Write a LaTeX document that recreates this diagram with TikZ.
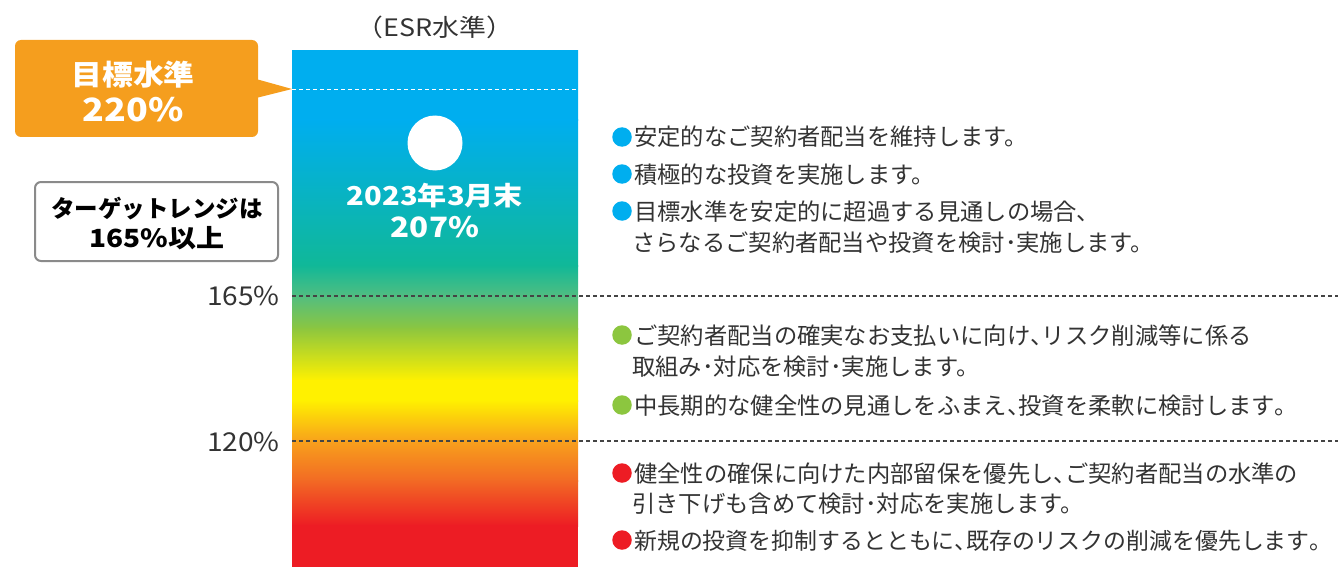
\documentclass[tikz,border=0pt]{standalone}
\usepackage{fontspec}
\setmainfont{Noto Sans CJK JP}
\newfontfamily\wideA{Noto Sans CJK JP}[FakeStretch=1.12]
\newfontfamily\wideB{Noto Sans CJK JP}[FakeStretch=1.08]
\newcommand\hcomma{\makebox[0.5em][l]{、}}
\newcommand\hstop{\makebox[0.5em][l]{。}}
\definecolor{cBlue}{HTML}{00AEEF}
\definecolor{cTeal}{HTML}{10B898}
\definecolor{cGreenA}{HTML}{52BE80}
\definecolor{cGreen}{HTML}{8CC63F}
\definecolor{cYellow}{HTML}{FFF100}
\definecolor{cOrangeA}{HTML}{F8A01C}
\definecolor{cOrangeB}{HTML}{F26A24}
\definecolor{cRed}{HTML}{ED1C24}
\definecolor{cCallout}{HTML}{F59E1E}
\definecolor{cText}{HTML}{333333}
\definecolor{cDash}{HTML}{444444}
\definecolor{cBox}{HTML}{8A8A8A}
\tikzset{
  body/.style={anchor=base west, inner sep=0pt, text=cText, font=\fontsize{23.3}{23.3}\selectfont},
  bul/.style={circle, inner sep=0pt, minimum size=19.5pt},
  level/.style={anchor=base east, inner sep=0pt, text=cText, font=\wideB\fontsize{26}{26}\selectfont},
  wbig/.style={anchor=base, inner sep=0pt, text=white},
  darkdash/.style={cDash, line width=1.1pt, dash pattern=on 4pt off 3pt},
}
\begin{document}
\begin{tikzpicture}[x=1pt,y=-1pt]
\useasboundingbox (0,0) rectangle (1338,567);
% gradient bar
\shade[top color=cBlue, bottom color=cBlue] (292,51) rectangle (578,121);
\shade[top color=cBlue, bottom color=cTeal] (292,120) rectangle (578,266);
\shade[top color=cTeal, bottom color=cGreenA] (292,265) rectangle (578,297);
\shade[top color=cGreenA, bottom color=cGreen] (292,296) rectangle (578,329);
\shade[top color=cGreen, bottom color=cYellow] (292,328) rectangle (578,381);
\shade[top color=cYellow, bottom color=cYellow] (292,380) rectangle (578,401);
\shade[top color=cYellow, bottom color=cOrangeA] (292,400) rectangle (578,442);
\shade[top color=cOrangeA, bottom color=cOrangeB] (292,441) rectangle (578,481);
\shade[top color=cOrangeB, bottom color=cRed] (292,480) rectangle (578,526);
\fill[cRed] (292,525) rectangle (578,567);
% target dashed line
\coordinate (t1) at (292,89);
\coordinate (t2) at (578,89);
\draw[white, line width=0.9pt, dash pattern=on 4pt off 3pt] (t1) -- (t2);
% callout
\fill[cCallout, rounded corners=6pt] (15,40) rectangle (258,137);
\fill[cCallout] (256,79) -- (t1) -- (256,98) -- cycle;
\node[wbig, font=\wideB\bfseries\fontsize{28.5}{28.5}\selectfont] (goal) at (133,86) {目標水準};
\node[wbig, font=\wideA\bfseries\fontsize{32}{32}\selectfont] (goalv) at (133,122) {220\%};
% title
\node[anchor=base, inner sep=0pt, text=cText, font=\wideA\fontsize{24}{24}\selectfont] (title) at (435,37) {（ESR水準）};
% current
\fill[white] (435,143) circle (27.5);
\node[wbig, font=\wideA\bfseries\fontsize{26}{26}\selectfont] (cur) at (435,205) {2023年3月末};
\node[wbig, font=\wideA\bfseries\fontsize{28}{28}\selectfont] (curv) at (435,237) {207\%};
% target range box
\draw[cBox, fill=white, line width=2pt, rounded corners=6pt] (35,182) rectangle (278,261);
\node[anchor=base, inner sep=0pt, font=\bfseries\fontsize{23.5}{23.5}\selectfont] (rng1) at (157,217) {ターゲットレンジは};
\node[anchor=base, inner sep=0pt, font=\wideA\bfseries\fontsize{25}{25}\selectfont] (rng2) at (157,247) {165\%以上};
% levels
\coordinate (l165a) at (292,296);
\coordinate (l165b) at (1338,296);
\coordinate (l120a) at (292,441);
\coordinate (l120b) at (1338,441);
\draw[darkdash] (l165a) -- (l165b);
\draw[darkdash] (l120a) -- (l120b);
\node[level] (lab165) at (280,305) {165\%};
\node[level] (lab120) at (280,451) {120\%};
% bullets
\node[bul, fill=cBlue] (b1) at (622,137) {};
\node[bul, fill=cBlue] (b2) at (622,174) {};
\node[bul, fill=cBlue] (b3) at (622,211) {};
\node[bul, fill=cGreen] (b4) at (622,335) {};
\node[bul, fill=cGreen] (b5) at (622,405) {};
\node[bul, fill=cRed] (b6) at (622,473) {};
\node[bul, fill=cRed] (b7) at (622,540) {};
% texts
\node[body] (s1) at (634,146) {安定的なご契約者配当を維持します。};
\node[body] (s2) at (634,183) {積極的な投資を実施します。};
\node[body] (s3) at (634,220) {目標水準を安定的に超過する見通しの場合、};
\node[body] (s3b) at (632,251) {さらなるご契約者配当や投資を検討･実施します。};
\node[body] (s4) at (634,344) {ご契約者配当の確実なお支払いに向け\hcomma リスク削減等に係る};
\node[body] (s4b) at (632,375) {取組み･対応を検討･実施します。};
\node[body] (s5) at (634,414) {中長期的な健全性の見通しをふまえ\hcomma 投資を柔軟に検討します\hstop};
\node[body] (s6) at (634,482) {健全性の確保に向けた内部留保を優先し\hcomma ご契約者配当の水準の};
\node[body] (s6b) at (632,512) {引き下げも含めて検討･対応を実施します。};
\node[body, font=\fontsize{22.9}{22.9}\selectfont] (s7) at (634,549) {新規の投資を抑制するとともに\hcomma 既存のリスクの削減を優先します\hstop};
\end{tikzpicture}
\end{document}
